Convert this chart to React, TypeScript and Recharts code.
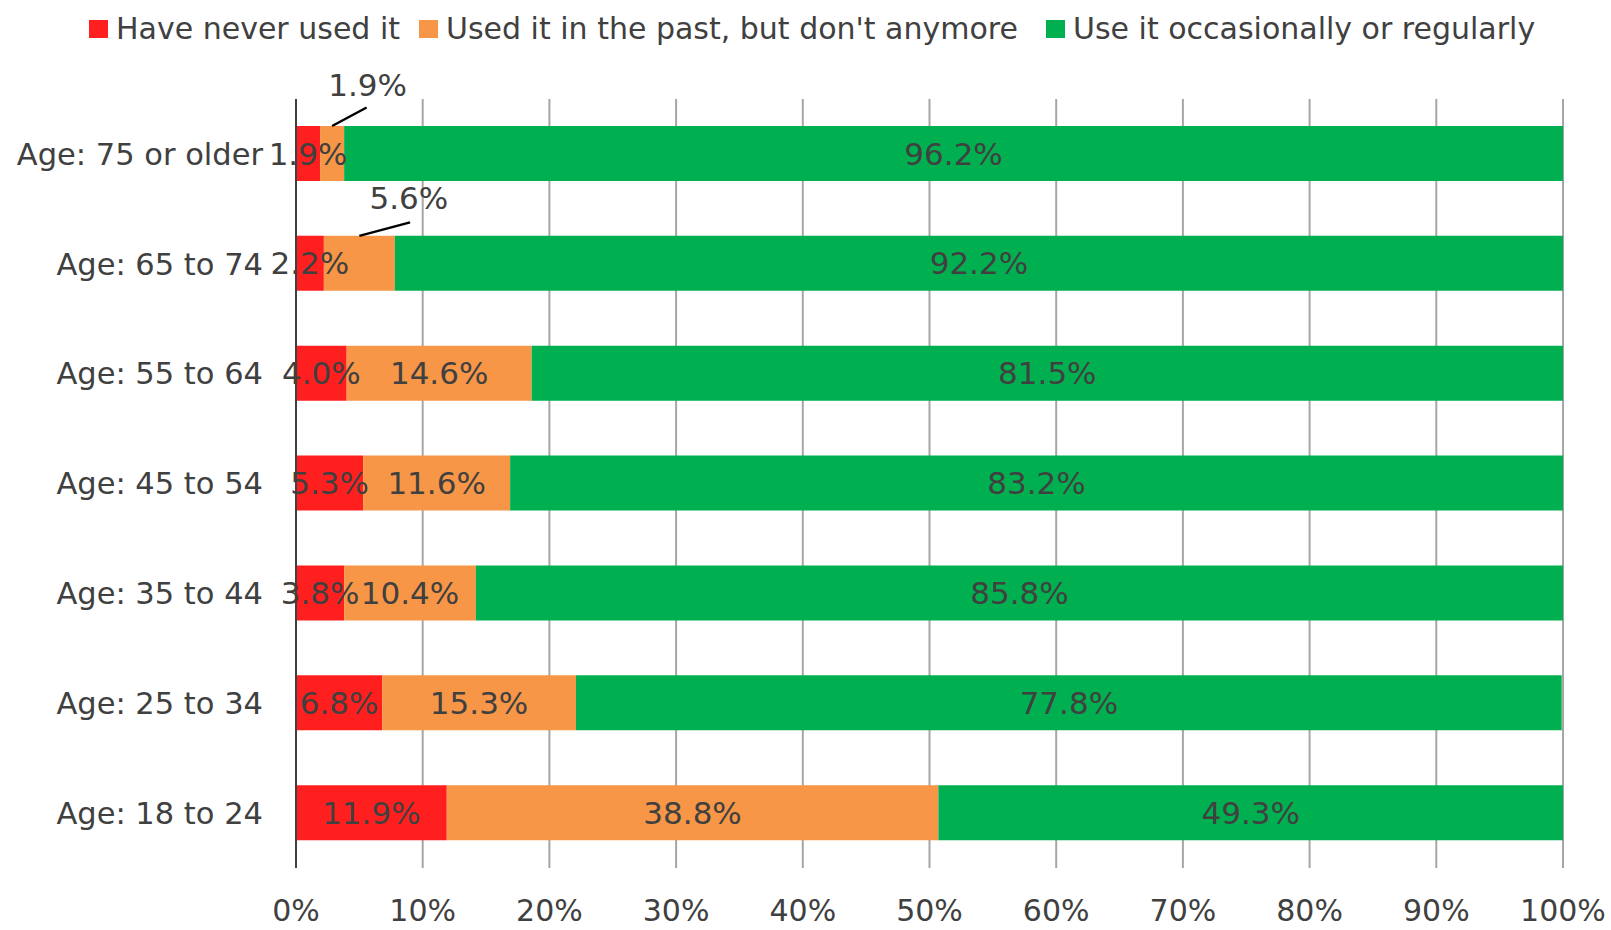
import React from 'react';
import { BarChart, Bar, XAxis, YAxis, CartesianGrid, LabelList, Legend } from 'recharts';

const categories = [
  'Age: 75 or older',
  'Age: 65 to 74',
  'Age: 55 to 64',
  'Age: 45 to 54',
  'Age: 35 to 44',
  'Age: 25 to 34',
  'Age: 18 to 24',
];
const neverUsed = [1.9, 2.2, 4.0, 5.3, 3.8, 6.8, 11.9];
const pastUsed = [1.9, 5.6, 14.6, 11.6, 10.4, 15.3, 38.8];
const currentUse = [96.2, 92.2, 81.5, 83.2, 85.8, 77.8, 49.3];
const xTicks = [0, 10, 20, 30, 40, 50, 60, 70, 80, 90, 100];
const seriesNames = [
  'Have never used it',
  "Used it in the past, but don't anymore",
  'Use it occasionally or regularly',
];
const seriesColors = ['#FF1F1F', '#F79646', '#00B050'];

const data = categories.map((c, i) => ({
  name: c,
  never: neverUsed[i],
  past: pastUsed[i],
  current: currentUse[i],
}));

const FONT = "'DejaVu Sans', Verdana, sans-serif";
const TEXT = '#404040';
const FS = 31;
const fmt = (v: any) => `${Number(v).toFixed(1)}%`;

function getBox(props: any) {
  const vb = props.viewBox || props;
  return { x: Number(vb.x), y: Number(vb.y), width: Number(vb.width), height: Number(vb.height) };
}

function centerLabel(props: any) {
  const { x, y, width, height } = getBox(props);
  return (
    <text
      x={x + width / 2}
      y={y + height / 2}
      textAnchor="middle"
      dominantBaseline="central"
      fontSize={FS}
      fill={TEXT}
      fontFamily={FONT}
    >
      {fmt(props.value)}
    </text>
  );
}

// callout offsets for the two thin "past" segments at the top
const callouts: Record<number, { lx: number; ly: number; tx: number; ty: number }> = {
  0: { lx: 34.5, ly: 18.5, tx: 35.5, ty: 41.5 },
  1: { lx: 50.7, ly: 13.5, tx: 49.5, ty: 38 },
};

function pastLabel(props: any) {
  const { x, y, width } = getBox(props);
  const c = callouts[props.index];
  if (c) {
    const cx = x + width / 2;
    return (
      <g>
        <line x1={cx} y1={y} x2={cx + c.lx} y2={y - c.ly} stroke="#000" strokeWidth={2.5} />
        <text
          x={cx + c.tx}
          y={y - c.ty}
          textAnchor="middle"
          dominantBaseline="central"
          fontSize={FS}
          fill={TEXT}
          fontFamily={FONT}
        >
          {fmt(props.value)}
        </text>
      </g>
    );
  }
  return centerLabel(props);
}

const legendLefts = [89, 419, 1046];

function renderLegend() {
  return (
    <div style={{ position: 'relative', width: 1611, height: 99, fontFamily: FONT }}>
      {seriesNames.map((n, i) => (
        <div
          key={n}
          style={{
            position: 'absolute',
            left: legendLefts[i],
            top: 9,
            height: 40,
            display: 'flex',
            alignItems: 'center',
            whiteSpace: 'nowrap',
          }}
        >
          <span
            style={{
              display: 'inline-block',
              width: 19,
              height: 18,
              background: seriesColors[i],
              marginRight: 8,
            }}
          />
          <span style={{ fontSize: 30, color: TEXT, lineHeight: '40px' }}>{n}</span>
        </div>
      ))}
    </div>
  );
}

export default function App() {
  return (
    <div style={{ position: 'absolute', left: 0, top: 0, width: 1611, height: 930, background: '#fff' }}>
      <BarChart
        width={1611}
        height={930}
        data={data}
        layout="vertical"
        margin={{ top: 0, right: 48, bottom: 0, left: 0 }}
        barSize={55}
        style={{ fontFamily: FONT }}
      >
        <Legend
          verticalAlign="top"
          align="left"
          content={renderLegend}
          wrapperStyle={{ top: 0, left: 0, width: 1611, height: 99 }}
        />
        <CartesianGrid horizontal={false} vertical={true} stroke="#A6A6A6" strokeWidth={2} />
        <XAxis
          type="number"
          domain={[0, 100]}
          ticks={xTicks}
          allowDataOverflow
          tickFormatter={(v: number) => `${v}%`}
          axisLine={false}
          tickLine={false}
          tickSize={0}
          tickMargin={32}
          height={62}
          interval={0}
          tick={{ fontSize: 30, fill: TEXT, fontFamily: FONT }}
        />
        <YAxis
          type="category"
          dataKey="name"
          width={296}
          axisLine={{ stroke: '#404040', strokeWidth: 2 }}
          tickLine={false}
          tickSize={0}
          tickMargin={33}
          interval={0}
          tick={{ fontSize: 30.5, fill: TEXT, fontFamily: FONT }}
        />
        <Bar dataKey="never" stackId="a" fill={seriesColors[0]} isAnimationActive={false} name={seriesNames[0]}>
          <LabelList dataKey="never" content={centerLabel} />
        </Bar>
        <Bar dataKey="past" stackId="a" fill={seriesColors[1]} isAnimationActive={false} name={seriesNames[1]}>
          <LabelList dataKey="past" content={pastLabel} />
        </Bar>
        <Bar dataKey="current" stackId="a" fill={seriesColors[2]} isAnimationActive={false} name={seriesNames[2]}>
          <LabelList dataKey="current" content={centerLabel} />
        </Bar>
      </BarChart>
    </div>
  );
}
